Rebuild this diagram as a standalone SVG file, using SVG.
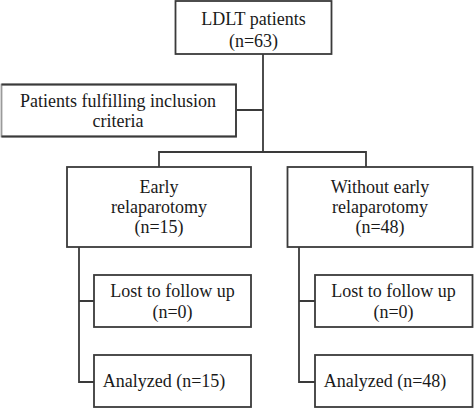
<svg xmlns="http://www.w3.org/2000/svg" width="474" height="408" viewBox="0 0 474 408">
<style>
.box{fill:#fff;stroke:#3a3a3a;stroke-width:1.8}
.ln{fill:none;stroke:#3a3a3a;stroke-width:1.8}
text{font-family:"Liberation Serif","Times New Roman",serif;font-size:18px;fill:#1a1a1a;text-anchor:middle}
</style>
<rect width="474" height="408" fill="#fff"/>
<g id="connectors">
<path class="ln" d="M263 54V152M236 110H263M159 167V152H366V167"/>
<path class="ln" d="M79 247V382H94M79 301H94"/>
<path class="ln" d="M299 247V382H315M299 301H315"/>
</g>
<g id="ldlt">
<rect class="box" x="175.5" y="1" width="156" height="53"/>
<text x="253.5" y="25">LDLT patients</text>
<text x="253.5" y="47">(n=63)</text>
</g>
<g id="inclusion">
<rect class="box" x="1.5" y="84.5" width="234.5" height="52" style="stroke:#9a9a9a"/>
<path class="ln" d="M1.5 84.5H236V136.5H1.5"/>
<text x="118" y="107">Patients fulfilling inclusion</text>
<text x="118" y="127">criteria</text>
</g>
<g id="early">
<rect class="box" x="67" y="167" width="184" height="80"/>
<text x="159" y="193">Early</text>
<text x="159" y="213">relaparotomy</text>
<text x="159" y="233">(n=15)</text>
</g>
<g id="without">
<rect class="box" x="287.5" y="167" width="185" height="80"/>
<text x="380" y="193">Without early</text>
<text x="380" y="213">relaparotomy</text>
<text x="380" y="233">(n=48)</text>
</g>
<g id="lost-left">
<rect class="box" x="94" y="275" width="157" height="52"/>
<text x="172.5" y="297">Lost to follow up</text>
<text x="172.5" y="318">(n=0)</text>
</g>
<g id="lost-right">
<rect class="box" x="315" y="275" width="157.5" height="52"/>
<text x="393.5" y="297">Lost to follow up</text>
<text x="393.5" y="318">(n=0)</text>
</g>
<g id="analyzed-left">
<rect class="box" x="94" y="355" width="157" height="52"/>
<text x="164" y="387">Analyzed (n=15)</text>
</g>
<g id="analyzed-right">
<rect class="box" x="315" y="355" width="157.5" height="52"/>
<text x="385" y="387">Analyzed (n=48)</text>
</g>
</svg>
